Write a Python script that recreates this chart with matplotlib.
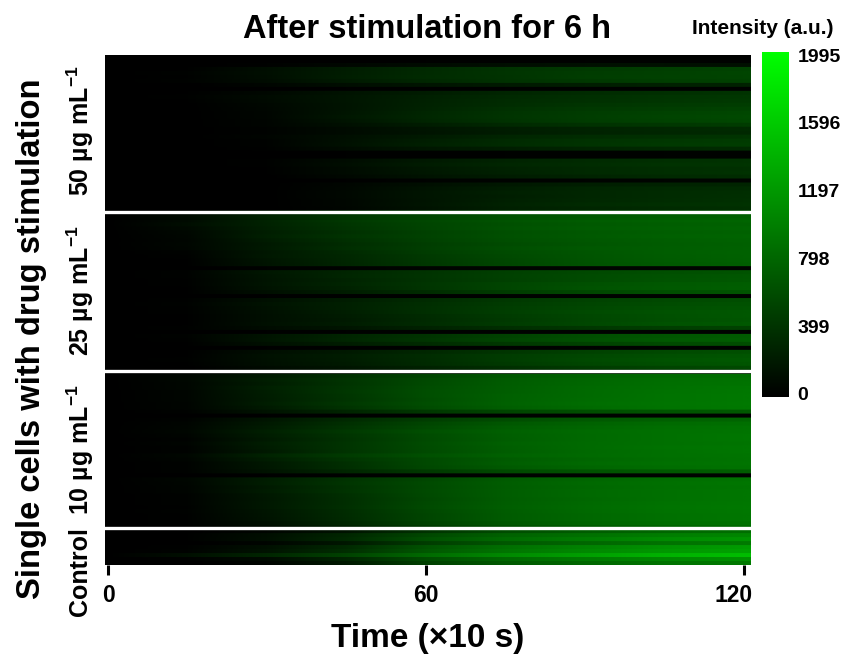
import numpy as np
import matplotlib
matplotlib.use("Agg")
import matplotlib.pyplot as plt
from matplotlib.colors import LinearSegmentedColormap
from matplotlib.transforms import ScaledTranslation

plt.rcParams['font.family'] = ['Liberation Sans', 'DejaVu Sans']
plt.rcParams['font.weight'] = 'bold'
plt.rcParams['mathtext.fontset'] = 'custom'
plt.rcParams['mathtext.rm'] = 'Liberation Sans:bold'
plt.rcParams['mathtext.bf'] = 'Liberation Sans:bold'

# intensity at these times, one row per band of cells
times = [0, 15, 30, 45, 60, 75, 90, 105, 120]
x_ticks = [0, 60, 120]
cbar_ticks = [0, 399, 798, 1197, 1596, 1995]
panel_labels = ["50 µg mL$^{-1}$", "25 µg mL$^{-1}$", "10 µg mL$^{-1}$", "Control"]

rows_50 = [
    [0, 0, 0, 0, 5, 10, 15, 15, 15],
    [0, 0, 0, 5, 10, 15, 20, 20, 20],
    [0, 0, 20, 60, 90, 110, 130, 130, 120],
    [0, 15, 110, 220, 320, 400, 450, 490, 520],
    [0, 25, 120, 230, 330, 410, 470, 500, 540],
    [0, 20, 110, 240, 340, 400, 480, 510, 530],
    [0, 25, 100, 210, 310, 390, 440, 490, 510],
    [0, 0, 50, 110, 170, 210, 240, 260, 270],
    [0, 0, 0, 10, 15, 20, 20, 20, 20],
    [0, 10, 70, 150, 220, 290, 340, 370, 400],
    [0, 20, 90, 170, 250, 320, 370, 410, 430],
    [0, 15, 80, 170, 260, 340, 380, 420, 450],
    [0, 5, 70, 160, 270, 350, 410, 450, 480],
    [0, 0, 60, 160, 280, 380, 440, 480, 520],
    [0, 0, 50, 170, 300, 400, 470, 520, 560],
    [0, 0, 50, 180, 310, 410, 480, 530, 570],
    [0, 0, 40, 160, 290, 390, 470, 520, 560],
    [0, 0, 40, 130, 230, 320, 390, 430, 470],
    [0, 0, 30, 90, 170, 230, 280, 310, 340],
    [0, 0, 30, 90, 160, 220, 270, 300, 320],
    [0, 0, 40, 120, 210, 290, 350, 380, 410],
    [0, 0, 30, 130, 240, 330, 390, 430, 460],
    [0, 0, 30, 140, 250, 340, 400, 450, 480],
    [0, 0, 20, 100, 180, 240, 290, 320, 340],
    [0, 0, 0, 10, 15, 20, 20, 25, 25],
    [0, 0, 0, 10, 15, 20, 20, 25, 25],
    [0, 0, 20, 100, 200, 280, 330, 370, 390],
    [0, 0, 20, 110, 220, 300, 350, 390, 410],
    [0, 0, 10, 90, 190, 270, 320, 360, 380],
    [0, 0, 10, 90, 180, 260, 320, 360, 390],
    [0, 0, 5, 70, 150, 220, 280, 320, 350],
    [0, 0, 0, 15, 25, 30, 35, 40, 40],
    [0, 0, 0, 50, 120, 190, 240, 270, 290],
    [0, 0, 0, 60, 150, 230, 290, 320, 340],
    [0, 0, 0, 70, 170, 250, 300, 340, 360],
    [0, 0, 0, 70, 170, 240, 300, 340, 370],
    [0, 0, 0, 60, 160, 250, 310, 350, 380],
    [0, 0, 0, 60, 170, 270, 330, 370, 390],
    [0, 0, 0, 50, 150, 250, 300, 340, 370],
]
rows_25 = [
    [0, 40, 210, 400, 500, 580, 620, 660, 680],
    [0, 100, 290, 440, 550, 640, 700, 740, 760],
    [0, 90, 280, 440, 560, 650, 720, 760, 790],
    [0, 110, 270, 420, 540, 630, 700, 740, 770],
    [0, 80, 250, 400, 530, 640, 710, 750, 780],
    [0, 70, 240, 380, 510, 620, 690, 740, 770],
    [0, 60, 250, 400, 520, 630, 700, 750, 780],
    [0, 50, 220, 370, 500, 610, 680, 730, 770],
    [0, 60, 200, 350, 480, 590, 670, 720, 750],
    [0, 50, 210, 360, 490, 610, 690, 730, 760],
    [0, 30, 180, 320, 470, 590, 670, 730, 770],
    [0, 20, 190, 310, 450, 570, 660, 720, 760],
    [0, 10, 170, 300, 440, 560, 650, 710, 750],
    [0, 10, 160, 290, 430, 550, 640, 700, 740],
    [0, 0, 20, 30, 40, 40, 40, 40, 40],
    [0, 30, 180, 290, 400, 500, 570, 620, 650],
    [0, 30, 170, 300, 410, 510, 590, 640, 680],
    [0, 20, 160, 280, 400, 500, 590, 650, 690],
    [0, 20, 170, 290, 420, 540, 630, 690, 730],
    [0, 10, 150, 270, 410, 540, 640, 700, 740],
    [0, 10, 120, 230, 350, 470, 560, 620, 660],
    [0, 0, 10, 15, 15, 20, 20, 20, 20],
    [0, 20, 130, 230, 340, 440, 520, 570, 610],
    [0, 30, 150, 250, 360, 460, 540, 600, 640],
    [0, 20, 140, 250, 370, 480, 560, 620, 660],
    [0, 20, 130, 240, 370, 490, 580, 640, 680],
    [0, 10, 120, 220, 340, 460, 560, 630, 680],
    [0, 10, 120, 210, 330, 450, 550, 620, 670],
    [0, 10, 130, 220, 340, 460, 560, 640, 690],
    [0, 20, 100, 170, 270, 360, 430, 490, 520],
    [0, 0, 10, 20, 20, 25, 25, 25, 25],
    [0, 30, 160, 290, 400, 520, 610, 670, 710],
    [0, 20, 170, 300, 420, 540, 630, 690, 730],
    [0, 10, 130, 230, 340, 440, 520, 580, 610],
    [0, 0, 10, 15, 20, 25, 25, 25, 25],
    [0, 10, 110, 200, 310, 420, 510, 570, 620],
    [0, 10, 140, 230, 350, 470, 560, 620, 670],
    [0, 20, 130, 220, 340, 470, 570, 640, 690],
    [0, 10, 120, 210, 330, 450, 550, 620, 670],
    [0, 5, 90, 170, 270, 370, 460, 530, 570],
]
rows_10 = [
    [0, 0, 10, 20, 25, 25, 30, 30, 30],
    [0, 60, 210, 380, 530, 680, 770, 830, 860],
    [0, 70, 240, 410, 570, 710, 800, 860, 890],
    [0, 60, 220, 400, 580, 720, 810, 870, 900],
    [0, 60, 250, 420, 600, 730, 820, 880, 920],
    [0, 50, 240, 430, 610, 740, 830, 890, 930],
    [0, 50, 230, 420, 610, 750, 830, 900, 940],
    [0, 50, 220, 410, 600, 750, 840, 900, 940],
    [0, 40, 240, 430, 610, 760, 850, 910, 950],
    [0, 40, 210, 400, 590, 740, 830, 900, 940],
    [0, 30, 150, 290, 440, 550, 620, 670, 700],
    [0, 0, 10, 20, 20, 25, 25, 25, 25],
    [0, 30, 170, 320, 480, 600, 690, 750, 790],
    [0, 40, 200, 370, 540, 680, 770, 830, 870],
    [0, 50, 220, 400, 570, 720, 800, 860, 900],
    [0, 60, 250, 440, 620, 750, 830, 880, 910],
    [0, 40, 230, 410, 590, 740, 820, 880, 920],
    [0, 30, 210, 390, 580, 730, 820, 880, 920],
    [0, 40, 240, 410, 600, 750, 830, 880, 910],
    [0, 30, 220, 410, 590, 740, 830, 890, 920],
    [0, 30, 200, 400, 580, 730, 820, 880, 920],
    [0, 60, 280, 460, 630, 760, 830, 880, 910],
    [0, 40, 230, 410, 570, 710, 800, 860, 900],
    [0, 30, 190, 370, 570, 730, 820, 880, 910],
    [0, 30, 180, 360, 560, 700, 790, 850, 890],
    [0, 30, 150, 300, 450, 580, 650, 700, 730],
    [0, 0, 10, 20, 20, 25, 25, 25, 25],
    [0, 60, 230, 400, 560, 710, 800, 860, 900],
    [0, 50, 240, 420, 580, 730, 820, 880, 920],
    [0, 40, 210, 390, 570, 720, 810, 870, 910],
    [0, 40, 220, 400, 580, 730, 820, 880, 920],
    [0, 30, 190, 370, 570, 730, 820, 880, 920],
    [0, 30, 180, 360, 560, 720, 810, 880, 920],
    [0, 30, 190, 360, 570, 730, 820, 890, 930],
    [0, 20, 190, 370, 580, 740, 830, 900, 940],
    [0, 30, 170, 350, 560, 720, 820, 890, 930],
    [0, 20, 160, 340, 540, 710, 810, 880, 920],
    [0, 20, 150, 330, 540, 710, 810, 880, 920],
    [0, 20, 130, 310, 510, 680, 780, 850, 890],
    [0, 10, 100, 250, 440, 610, 700, 770, 820],
]
rows_control = [
    [0, 0, 40, 150, 390, 600, 720, 800, 860],
    [0, 10, 110, 300, 560, 760, 880, 980, 1040],
    [0, 10, 120, 320, 620, 830, 960, 1080, 1150],
    [0, 0, 40, 180, 470, 680, 800, 890, 950],
    [0, 20, 130, 320, 640, 870, 1020, 1130, 1210],
    [0, 30, 150, 360, 680, 910, 1060, 1180, 1260],
    [0, 120, 300, 520, 830, 1070, 1240, 1390, 1480],
    [0, 20, 90, 290, 600, 810, 950, 1050, 1120],
    [0, 0, 40, 200, 500, 700, 810, 900, 950],
]

panels = [rows_50, rows_25, rows_10, rows_control]
values = np.array(rows_50 + rows_25 + rows_10 + rows_control)
n_rows, n_cols = values.shape
step = times[1] - times[0]
sep_rows = [39.3, 79.3, 118.7]

cmap = LinearSegmentedColormap.from_list("blackgreen", ["#000000", "#00ff00"])

fig = plt.figure(figsize=(8.42, 6.55), dpi=100)
W, H = 842.0, 655.0
ax = fig.add_axes([105 / W, 1 - 565 / H, 646 / W, 510 / H])
cax = fig.add_axes([762 / W, 1 - 397 / H, 27 / W, 345 / H])

# repeat the rows so bilinear only smooths along time, the dark lines stay sharp
ax.imshow(np.repeat(values, 4, axis=0), cmap=cmap, vmin=0, vmax=1995, aspect='auto',
          interpolation='bilinear',
          extent=[times[0] - step / 2, times[-1] + step / 2, n_rows, 0])
ax.set_xlim(-0.6, 121.4)
ax.set_ylim(n_rows, 0)

# white lines between the concentration groups
for e in sep_rows:
    ax.axhline(e, color='white', lw=2.4)

for s in ax.spines.values():
    s.set_visible(False)
ax.set_yticks([])
ax.set_xticks(x_ticks)
ax.tick_params(axis='x', length=7.5, width=2.2, pad=6, labelsize=16.5)
# the 120 label sits left of its tick in the original
last = ax.get_xticklabels()[-1]
last.set_transform(last.get_transform() + ScaledTranslation(-10 / 100, 0, fig.dpi_scale_trans))

ax.set_xlabel("Time (×10 s)", fontsize=24, fontweight='bold', labelpad=12)
fig.text(427 / W, 1 - 30 / H, "After stimulation for 6 h", fontsize=23.5, fontweight='bold',
         ha='center', va='center')
fig.text(32 / W, 1 - 339 / H, "Single cells with drug stimulation", fontsize=23.6, fontweight='bold',
         rotation=90, ha='center', va='center')

label_y = [131, 291, 450, 572]
for lab, y in zip(panel_labels, label_y):
    fig.text(80 / W, 1 - y / H, lab, fontsize=18, fontweight='bold', rotation=90,
             ha='center', va='center')

# colour bar, its labels sit a bit inside the ends of the bar
gradient = np.arange(256).reshape(-1, 1)
cax.imshow(gradient, cmap=cmap, origin='lower', aspect='auto', extent=[0, 1, -18, 2013])
cax.set_ylim(-18, 2013)
cax.set_xticks([])
cax.yaxis.tick_right()
cax.set_yticks(cbar_ticks)
cax.tick_params(length=0, pad=6, labelsize=14)
for s in cax.spines.values():
    s.set_visible(False)
fig.text(763 / W, 1 - 28 / H, "Intensity (a.u.)", fontsize=15, fontweight='bold',
         ha='center', va='center')

plt.savefig("out.png", dpi=100)
